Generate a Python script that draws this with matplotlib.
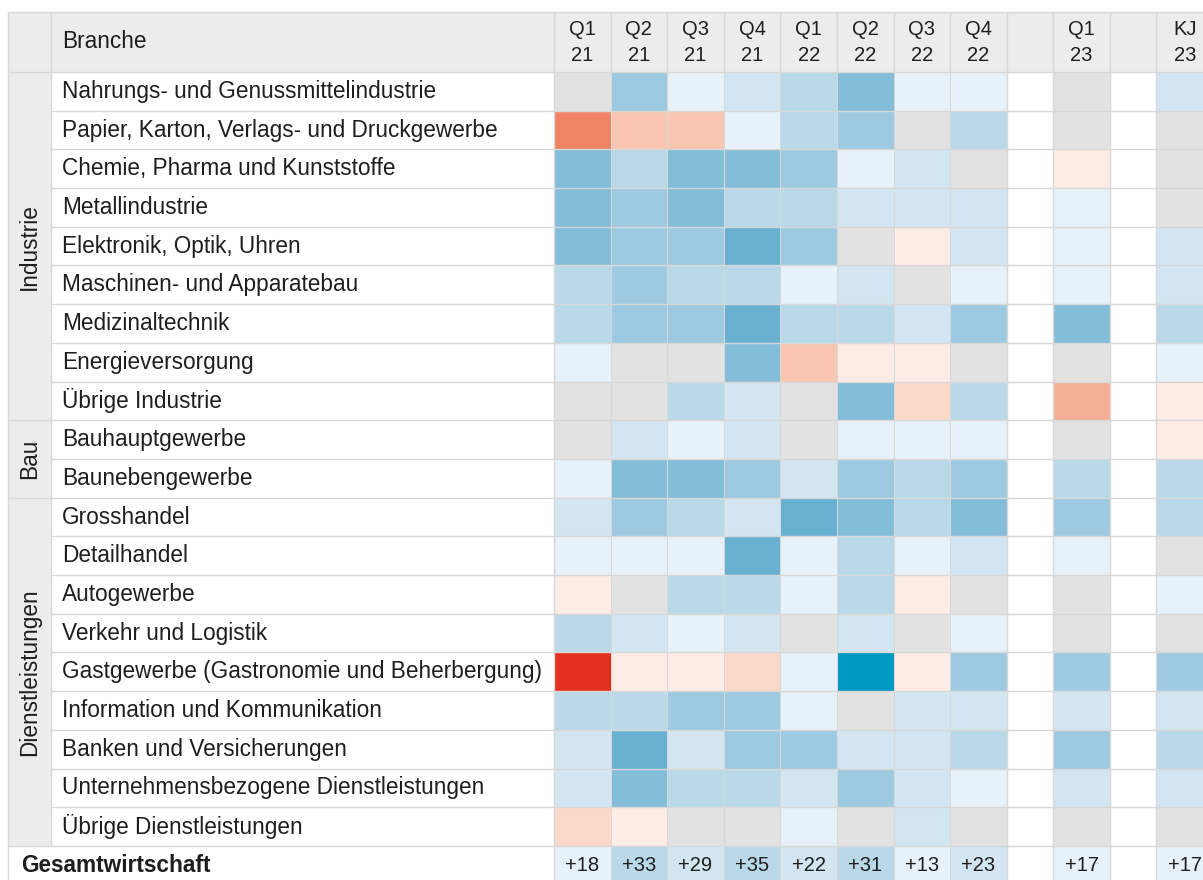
import numpy as np
import matplotlib.pyplot as plt
from matplotlib.colors import ListedColormap, BoundaryNorm
from matplotlib.patches import Rectangle

plt.rcParams['font.family'] = ['Liberation Sans', 'DejaVu Sans']

# --- data -------------------------------------------------------------
columns = ["Q1\n21", "Q2\n21", "Q3\n21", "Q4\n21", "Q1\n22", "Q2\n22",
           "Q3\n22", "Q4\n22", "Q1\n23", "KJ\n23"]

groups = [("Industrie", 9), ("Bau", 2), ("Dienstleistungen", 9)]

branches = [
    "Nahrungs- und Genussmittelindustrie",
    "Papier, Karton, Verlags- und Druckgewerbe",
    "Chemie, Pharma und Kunststoffe",
    "Metallindustrie",
    "Elektronik, Optik, Uhren",
    "Maschinen- und Apparatebau",
    "Medizinaltechnik",
    "Energieversorgung",
    "Übrige Industrie",
    "Bauhauptgewerbe",
    "Baunebengewerbe",
    "Grosshandel",
    "Detailhandel",
    "Autogewerbe",
    "Verkehr und Logistik",
    "Gastgewerbe (Gastronomie und Beherbergung)",
    "Information und Kommunikation",
    "Banken und Versicherungen",
    "Unternehmensbezogene Dienstleistungen",
    "Übrige Dienstleistungen",
]

# colour class per branche and period (-6 = strongly negative ... +7 = strongly positive)
levels = np.array([
    [ 0,  4,  1,  2,  3,  5,  1,  1,  0,  2],
    [-5, -3, -3,  1,  3,  4,  0,  3,  0,  0],
    [ 5,  3,  5,  5,  4,  1,  2,  0, -1,  0],
    [ 5,  4,  5,  3,  3,  2,  2,  2,  1,  0],
    [ 5,  4,  4,  6,  4,  0, -1,  2,  1,  2],
    [ 3,  4,  3,  3,  1,  2,  0,  1,  1,  2],
    [ 3,  4,  4,  6,  3,  3,  2,  4,  5,  3],
    [ 1,  0,  0,  5, -3, -1, -1,  0,  0,  1],
    [ 0,  0,  3,  2,  0,  5, -2,  3, -4, -1],
    [ 0,  2,  1,  2,  0,  1,  1,  1,  0, -1],
    [ 1,  5,  5,  4,  2,  4,  3,  4,  3,  3],
    [ 2,  4,  3,  2,  6,  5,  3,  5,  4,  3],
    [ 1,  1,  1,  6,  1,  3,  1,  2,  1,  0],
    [-1,  0,  3,  3,  1,  3, -1,  0,  0,  1],
    [ 3,  2,  1,  2,  0,  2,  0,  1,  0,  0],
    [-6, -1, -1, -2,  1,  7, -1,  4,  4,  4],
    [ 3,  3,  4,  4,  1,  0,  2,  2,  2,  2],
    [ 2,  6,  2,  4,  4,  2,  2,  3,  4,  3],
    [ 2,  5,  3,  3,  2,  4,  2,  1,  2,  2],
    [-2, -1,  0,  0,  1,  0,  2,  0,  0,  0],
])

total_values = [18, 33, 29, 35, 22, 31, 13, 23, 17, 17]

palette = ["#e32f1d", "#f18464", "#f5ae95", "#f8c6b1", "#fad9cb", "#fdece5",
           "#e2e2e2",
           "#e7f1f9", "#d2e5f0", "#b9d9e9", "#9ecae1", "#84bdd8", "#68b1d1", "#0099c4"]
cmap = ListedColormap(palette)
norm = BoundaryNorm(np.arange(-6.5, 8.0, 1.0), cmap.N)

# --- layout (pixels) ----------------------------------------------------
W, H = 1203, 880
left, grp_r, lab_r = 8, 50.7, 554
top, head_b, row_h = 11.7, 72, 38.7
col_w, gap_w = 56.6, 46.5
n_rows = len(branches)

# left edge of every data column, with the two white spacer columns
x0 = [lab_r + i * col_w for i in range(8)]
x0.append(x0[-1] + col_w + gap_w)
x0.append(x0[-1] + col_w + gap_w)
right = x0[-1] + col_w

row_top = [head_b + i * row_h for i in range(n_rows + 1)]
tot_top, tot_bot = row_top[-1], row_top[-1] + row_h

fig = plt.figure(figsize=(W / 100, H / 100), dpi=100)
ax = fig.add_axes([0, 0, 1, 1])
ax.set_xlim(0, W)
ax.set_ylim(H, 0)
ax.axis('off')

grey_bg = "#ececec"
line_c = "#d8d8d8"
txt_c = "#1e1e1e"
fs = 16.3

ax.add_patch(Rectangle((left, top), right - left, head_b - top, color=grey_bg, lw=0, zorder=0))
ax.add_patch(Rectangle((left, head_b), grp_r - left, n_rows * row_h, color=grey_bg, lw=0, zorder=0))

ys = np.array(row_top)
total_lv = np.array([[1 if v < 20 else (2 if v < 30 else 3) for v in total_values]])
for j, xl in enumerate(x0):
    xs = [xl, xl + col_w]
    ax.pcolormesh(xs, ys, levels[:, j:j + 1], cmap=cmap, norm=norm,
                  edgecolors=line_c, linewidth=0.6, zorder=1)
    ax.pcolormesh(xs, [tot_top, tot_bot], total_lv[:, j:j + 1], cmap=cmap, norm=norm,
                  edgecolors=line_c, linewidth=0.6, zorder=1)
    ax.text(xl + col_w / 2, (top + head_b) / 2 + 1, columns[j], ha='center', va='center',
            fontsize=14.5, color=txt_c, linespacing=1.45, zorder=3)
    ax.text(xl + col_w / 2, (tot_top + tot_bot) / 2, f"+{total_values[j]}", ha='center',
            va='center', fontsize=14.5, color=txt_c, zorder=3)

# grid lines
group_edges = np.cumsum([0] + [n for _, n in groups])
for i, y in enumerate(row_top):
    x_start = left if i in group_edges else grp_r
    ax.hlines(y, x_start, right, color=line_c, lw=1.0, zorder=2)
ax.hlines(top, left, right, color=line_c, lw=1.0, zorder=2)
ax.vlines([left, lab_r] + x0[8:] + [x0[7] + col_w, x0[8] + col_w], top, H, color=line_c, lw=1.0, zorder=2)
ax.vlines(grp_r, top, tot_top, color=line_c, lw=1.0, zorder=2)
ax.vlines([x + col_w for x in x0[:7]], top, head_b, color=line_c, lw=1.0, zorder=2)

# texts
ax.text(62, (top + head_b) / 2, "Branche", ha='left', va='center', fontsize=fs, color=txt_c)
for i, name in enumerate(branches):
    ax.text(62, row_top[i] + row_h / 2, name, ha='left', va='center', fontsize=fs, color=txt_c)
for (g, n), start in zip(groups, group_edges[:-1]):
    yc = head_b + (start + n / 2) * row_h
    ax.text((left + grp_r) / 2, yc, g, rotation=90, ha='center', va='center',
            fontsize=fs, color=txt_c)
ax.text(21, (tot_top + tot_bot) / 2, "Gesamtwirtschaft", ha='left', va='center',
        fontsize=fs, fontweight='bold', color=txt_c)

fig.savefig("out.png", dpi=100)
